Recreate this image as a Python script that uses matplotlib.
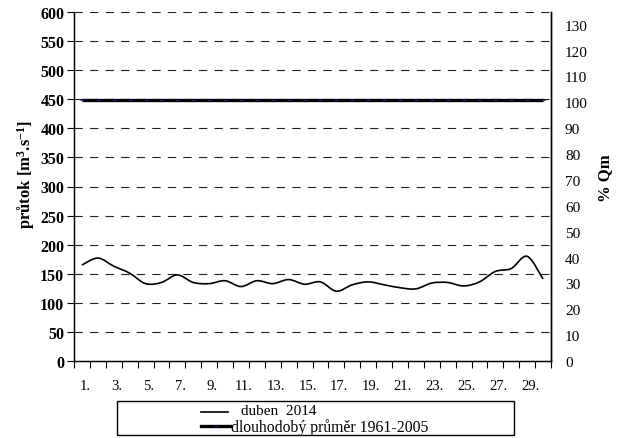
import numpy as np
import matplotlib
matplotlib.use("Agg")
import matplotlib.pyplot as plt
import matplotlib.transforms as mtransforms
from matplotlib.path import Path
from matplotlib.patches import PathPatch, Rectangle
from matplotlib.lines import Line2D

# Daily discharge, April 2014 [m3/s]
days = np.arange(1, 31)
flow_2014 = [165, 177, 163, 151, 133, 135, 148, 135, 133, 138,
             128, 138, 133, 140, 132, 136, 120, 131, 136, 131,
             126, 124, 134, 135, 129, 136, 154, 159, 180, 141]
# Long-term April mean 1961-2005 [m3/s]
long_term_mean = 448

left_ticks = list(range(0, 601, 50))
right_ticks = list(range(0, 131, 10))
day_labels = [f"{d}." for d in range(1, 31, 2)]

plt.rcParams["font.family"] = ["Liberation Serif", "DejaVu Serif"]
plt.rcParams["mathtext.fontset"] = "custom"
plt.rcParams["mathtext.rm"] = "Liberation Serif:bold"
plt.rcParams["mathtext.bf"] = "Liberation Serif:bold"
plt.rcParams["mathtext.default"] = "rm"

W, H = 620, 439
fig = plt.figure(figsize=(W / 100, H / 100), dpi=100)
ax = fig.add_axes([74 / W, 1 - 362 / H, (551 - 74) / W, (362 - 13) / H])


def smooth_path(x, y):
    """Cubic Bezier curve through the points (Excel-style smoothed line)."""
    x = np.asarray(x, float)
    y = np.asarray(y, float)
    n = len(x)
    verts = [(x[0], y[0])]
    codes = [Path.MOVETO]
    for i in range(n - 1):
        p0 = (x[i - 1], y[i - 1]) if i > 0 else (x[i], y[i])
        p1 = (x[i], y[i])
        p2 = (x[i + 1], y[i + 1])
        p3 = (x[i + 2], y[i + 2]) if i + 2 < n else (x[i + 1], y[i + 1])
        c1 = (p1[0] + (p2[0] - p0[0]) / 6, p1[1] + (p2[1] - p0[1]) / 6)
        c2 = (p2[0] - (p3[0] - p1[0]) / 6, p2[1] - (p3[1] - p1[1]) / 6)
        verts += [c1, c2, p2]
        codes += [Path.CURVE4] * 3
    return Path(verts, codes)


# horizontal dashed grid
for v in left_ticks[1:]:
    ax.axhline(v, color="#222222", lw=0.8, ls=(0, (7.5, 6.5)), zorder=1)

# long-term mean
mean_vals = [long_term_mean] * len(days)
ax.plot(days, mean_vals, color="black", lw=2.4, zorder=3, solid_capstyle="butt")
ax.plot(days, mean_vals, ls="none", marker="_", ms=3, mew=0.8,
        color="#23237a", zorder=4)

# April 2014 flow
ax.add_patch(PathPatch(smooth_path(days, flow_2014), fill=False,
                       edgecolor="black", lw=1.2, zorder=5))

ax.set_xlim(0.5, 30.5)
ax.set_ylim(0, 600)
ax.set_yticks(left_ticks)
ax.set_yticklabels([str(v) for v in left_ticks], fontsize=11.5, fontweight="bold")
ax.tick_params(axis="y", length=5, width=0.8, direction="out", pad=2)

ax.set_xticks(list(range(1, 31, 2)))
ax.set_xticklabels(day_labels, fontsize=10.5)
ax.set_xticks(np.arange(0.5, 31, 1), minor=True)
ax.tick_params(axis="x", which="major", length=0, pad=13)
ax.tick_params(axis="x", which="minor", length=5, width=0.8, direction="out")
shift = mtransforms.ScaledTranslation(3 / 100, 0, fig.dpi_scale_trans)
for lbl in ax.get_xticklabels():
    lbl.set_transform(lbl.get_transform() + shift)

for side in ("left", "right", "bottom"):
    ax.spines[side].set_linewidth(1.0)
ax.spines["top"].set_visible(False)

ax2 = ax.twinx()
ax2.set_ylim(0, 134.9)
ax2.set_yticks(right_ticks)
ax2.set_yticklabels([str(v) for v in right_ticks], fontsize=11)
ax2.tick_params(axis="y", length=0, pad=10)
ax2.spines["top"].set_visible(False)
ax2.spines["right"].set_linewidth(1.0)

# axis titles
fig.text(26 / W, 1 - 175 / H, "průtok [m$^{3}$.s$^{-1}$]",
         rotation=90, ha="center", va="center", fontsize=12, fontweight="bold")
fig.text(605 / W, 1 - 178 / H, "% Qm", rotation=90, ha="center", va="center",
         fontsize=12, fontweight="bold")

# legend box
fig.patches.append(Rectangle((117 / W, 1 - 436 / H), 397 / W, 34 / H,
                             transform=fig.transFigure, fill=False,
                             edgecolor="black", lw=1.0))
fig.lines.append(Line2D([201 / W, 228 / W], [1 - 412.5 / H] * 2,
                        transform=fig.transFigure, color="black", lw=1.2))
fig.lines.append(Line2D([201 / W, 230 / W], [1 - 427 / H] * 2,
                        transform=fig.transFigure, color="black", lw=2.4))
fig.lines.append(Line2D([215.5 / W], [1 - 427 / H], transform=fig.transFigure,
                        ls="none", marker="_", ms=3, mew=0.8, color="#23237a"))
fig.text(241 / W, 1 - 411.5 / H, "duben  2014", ha="left", va="center",
         fontsize=11)
fig.text(231 / W, 1 - 427.5 / H, "dlouhodobý průměr 1961-2005", ha="left",
         va="center", fontsize=11.3)

fig.savefig("out.png", dpi=100)
